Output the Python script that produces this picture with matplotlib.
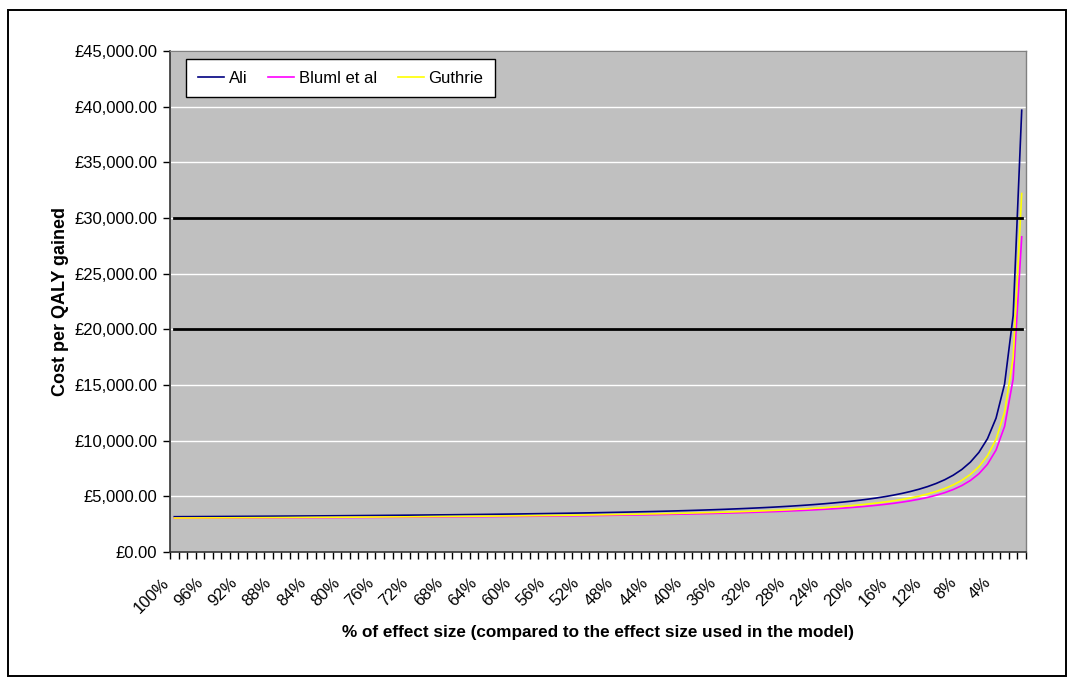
import matplotlib
matplotlib.use("Agg")
import matplotlib.pyplot as plt
from matplotlib.patches import Rectangle
from matplotlib.ticker import FuncFormatter, FixedLocator
from matplotlib.transforms import ScaledTranslation

plt.rcParams['font.family'] = ['Liberation Sans', 'DejaVu Sans']

# Effect size as a share of the modelled effect (100% down to 1%)
effect_pct = list(range(100, 0, -1))
effect_labels = [f"{p}%" for p in effect_pct]

# Cost per QALY gained for each source
ali = [3170, 3174, 3177, 3181, 3185, 3189, 3193, 3198, 3202, 3206,
       3211, 3215, 3220, 3225, 3230, 3235, 3240, 3245, 3251, 3256,
       3262, 3268, 3274, 3280, 3286, 3293, 3299, 3306, 3313, 3320,
       3328, 3336, 3343, 3351, 3360, 3368, 3377, 3386, 3396, 3406,
       3416, 3426, 3437, 3448, 3460, 3472, 3484, 3497, 3510, 3524,
       3539, 3554, 3569, 3586, 3603, 3621, 3639, 3659, 3679, 3701,
       3723, 3747, 3772, 3798, 3825, 3855, 3886, 3919, 3954, 3991,
       4030, 4073, 4118, 4167, 4220, 4276, 4338, 4405, 4477, 4557,
       4645, 4742, 4850, 4970, 5106, 5260, 5435, 5638, 5874, 6154,
       6489, 6899, 7411, 8070, 8948, 10177, 12021, 15094, 21241, 39681]

bluml = [3030, 3033, 3036, 3038, 3041, 3044, 3047, 3050, 3053, 3056,
         3059, 3062, 3065, 3068, 3072, 3075, 3079, 3083, 3086, 3090,
         3094, 3098, 3102, 3107, 3111, 3115, 3120, 3125, 3130, 3135,
         3140, 3145, 3150, 3156, 3162, 3168, 3174, 3180, 3187, 3194,
         3201, 3208, 3215, 3223, 3231, 3239, 3248, 3257, 3266, 3276,
         3286, 3296, 3307, 3318, 3330, 3342, 3355, 3369, 3383, 3398,
         3413, 3430, 3447, 3465, 3484, 3504, 3526, 3549, 3573, 3599,
         3626, 3655, 3687, 3721, 3757, 3796, 3839, 3885, 3935, 3991,
         4052, 4119, 4193, 4277, 4371, 4477, 4599, 4739, 4903, 5096,
         5328, 5612, 5966, 6422, 7030, 7881, 9158, 11285, 15540, 28305]

guthrie = [3050, 3053, 3056, 3060, 3063, 3066, 3069, 3073, 3076, 3080,
           3083, 3087, 3091, 3094, 3098, 3102, 3107, 3111, 3115, 3120,
           3124, 3129, 3133, 3138, 3143, 3149, 3154, 3159, 3165, 3171,
           3177, 3183, 3189, 3195, 3202, 3209, 3216, 3223, 3231, 3239,
           3247, 3255, 3264, 3273, 3282, 3291, 3301, 3312, 3322, 3333,
           3345, 3357, 3369, 3382, 3396, 3410, 3425, 3441, 3457, 3474,
           3492, 3511, 3531, 3552, 3574, 3597, 3622, 3648, 3676, 3706,
           3737, 3771, 3807, 3846, 3888, 3934, 3983, 4036, 4094, 4158,
           4228, 4305, 4392, 4488, 4596, 4719, 4859, 5021, 5209, 5432,
           5700, 6027, 6436, 6962, 7663, 8644, 10116, 12569, 17476, 32196]

# Willingness-to-pay thresholds
thresholds = [20000, 30000]

W, H = 1074, 684
fig = plt.figure(figsize=(W / 100, H / 100), dpi=100)
fig.patch.set_facecolor('white')

# outer chart frame
fig.add_artist(Rectangle((8 / W, 8 / H), 1058 / W, 666 / H, transform=fig.transFigure,
                         fill=False, edgecolor='black', linewidth=1.4))

ax = fig.add_axes([170 / W, (H - 552) / H, 856 / W, 501 / H])
ax.set_facecolor('#C0C0C0')

x = list(range(len(effect_pct)))
ax.plot(x, ali, color='#000080', lw=1.2, label='Ali', zorder=3)
ax.plot(x, bluml, color='#FF00FF', lw=1.2, label='Bluml et al', zorder=3)
ax.plot(x, guthrie, color='#FFFF00', lw=1.2, label='Guthrie', zorder=3)
for t in thresholds:
    ax.plot(x, [t] * len(x), color='black', lw=2.0, zorder=4)

ax.set_xlim(-0.5, len(x) - 0.5)
ax.set_ylim(0, 45000)

# y axis
ax.yaxis.set_major_locator(FixedLocator(range(0, 45001, 5000)))
ax.yaxis.set_major_formatter(FuncFormatter(lambda v, _: f"£{v:,.2f}"))
ax.tick_params(axis='y', direction='out', length=5, width=1, colors='black',
               labelsize=12, pad=4)
ax.grid(axis='y', color='white', lw=1.0, zorder=1)
ax.set_axisbelow(True)

# x axis: tick marks between categories, labels every fourth category
ax.set_xticks([i - 0.5 for i in range(len(x) + 1)], minor=True)
label_pos = list(range(0, len(x), 4))
ax.set_xticks(label_pos)
ax.set_xticklabels([effect_labels[i] for i in label_pos], rotation=45,
                   ha='right', va='center', rotation_mode='anchor')
ax.tick_params(axis='x', which='major', length=0, labelsize=12, pad=16)
ax.tick_params(axis='x', which='minor', direction='out', length=5, width=1, color='black')
shift = ScaledTranslation(-8 / 100, -6 / 100, fig.dpi_scale_trans)
for lbl in ax.get_xticklabels():
    lbl.set_transform(lbl.get_transform() + shift)

for s in ('left', 'bottom'):
    ax.spines[s].set_color('#333333')
    ax.spines[s].set_linewidth(1.2)
for s in ('top', 'right'):
    ax.spines[s].set_color('#808080')
    ax.spines[s].set_linewidth(1.0)

ax.set_ylabel('Cost per QALY gained', fontsize=13, fontweight='bold')
ax.yaxis.set_label_coords((60 - 170) / 856, 0.5)
ax.set_xlabel('% of effect size (compared to the effect size used in the model)',
              fontsize=12.3, fontweight='bold')
ax.xaxis.set_label_coords((598 - 170) / 856, (552 - 632) / 501)
ax.xaxis.label.set_va('center')
ax.yaxis.label.set_va('center')

leg = ax.legend(loc='upper left', bbox_to_anchor=(186 / W, (H - 59) / H),
                bbox_transform=fig.transFigure, ncol=3, fontsize=12,
                frameon=True, fancybox=False, edgecolor='black', framealpha=1,
                handlelength=1.55, handletextpad=0.3, columnspacing=1.25,
                borderpad=0.7, borderaxespad=0)
leg.get_frame().set_linewidth(1.0)

fig.savefig('out.png', dpi=100, facecolor='white')
